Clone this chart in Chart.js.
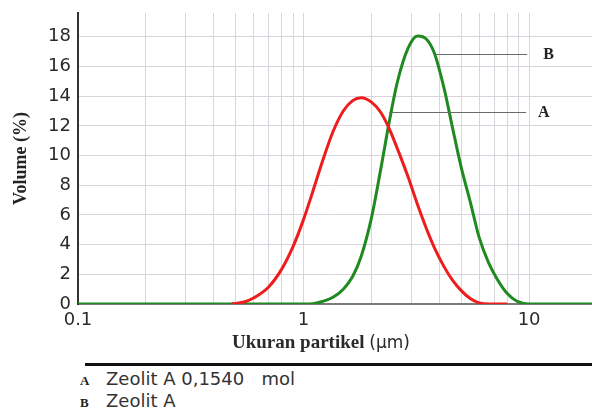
<!DOCTYPE html>
<html>
<head>
<meta charset="utf-8">
<script src="https://cdn.jsdelivr.net/npm/chart.js@4/dist/chart.umd.min.js"></script>
<style>
    body { margin: 0; background: #fff; }
    #wrap { position: relative; width: 592px; height: 419px; background: #fff; overflow: hidden; }
    #chart { position: absolute; left: 0; top: 0; }
    .xtitle { position: absolute; left: 232px; top: 331px; line-height: 22px; white-space: nowrap; color: #2a2a2a; }
    .xtitle .serif { font: bold 19px "Liberation Serif", "DejaVu Serif", serif; }
    .xtitle .sans { font: 17px "DejaVu Sans", sans-serif; }
    .rule { position: absolute; left: 85px; top: 363px; width: 507px; height: 3px; background: #111; }
    .row { position: absolute; left: 80px; height: 22px; line-height: 22px; white-space: pre; color: #333;
           font: 18px "DejaVu Sans", sans-serif; }
    .row .key { display: inline-block; width: 26px; font: bold 13px "Liberation Serif", serif; color: #222; }
</style>
</head>
<body>
<div id="wrap">
    <canvas id="chart" width="592" height="356"></canvas>
    <div class="xtitle"><span class="serif">Ukuran partikel </span><span class="sans">(µm)</span></div>
    <div class="rule"></div>
    <div class="row" style="top:368px"><span class="key">A</span>Zeolit A 0,1540   mol</div>
    <div class="row" style="top:390px"><span class="key">B</span>Zeolit A</div>
</div>
<script>
// Particle size (µm) sample points
const sizes = [0.1, 0.2, 0.3, 0.4, 0.48, 0.5, 0.55, 0.6, 0.7, 0.8, 0.9, 1.0,
    1.1, 1.2, 1.35, 1.5, 1.65, 1.8, 2.0, 2.2, 2.4, 2.6, 2.9, 3.2, 3.5, 3.8,
    4.2, 4.6, 5.0, 5.5, 6.0, 6.6, 7.2, 8.0, 8.8, 10, 12, 15, 19];

// Volume (%) - A: Zeolit A 0,1540 mol
const volumeA = [null, null, null, null, 0, 0.03, 0.15, 0.4, 1.15, 2.35, 3.9, 5.7,
    7.6, 9.4, 11.6, 13.0, 13.7, 13.9, 13.6, 12.9, 11.8, 10.5, 8.6, 6.7, 5.1, 3.8,
    2.5, 1.55, 0.9, 0.35, 0.08, 0, 0, 0, null, null, null, null, null];

// Volume (%) - B: Zeolit A
const volumeB = [0, 0, 0, 0, 0, 0, 0, 0, 0, 0, 0, 0,
    0.02, 0.15, 0.45, 1.0, 1.85, 3.2, 5.8, 9.1, 12.3, 14.9, 17.2, 18.05, 17.85, 16.9,
    14.5, 11.7, 9.2, 6.8, 4.5, 2.8, 1.7, 0.7, 0.2, 0, 0, 0, 0];

// Axis ticks
const xTicks = [0.1, 0.2, 0.3, 0.4, 0.5, 0.6, 0.7, 0.8, 0.9, 1, 2, 3, 4, 5, 6, 7, 8, 9, 10];
const xTickLabels = { 0.1: '0.1', 1: '1', 10: '10' };
const yTicks = [0, 2, 4, 6, 8, 10, 12, 14, 16, 18];

// Leader lines pointing at the curves
const leaders = [
    { text: 'B', y: 16.85, from: 3.87, to: 9.8, labelX: 12.2 },
    { text: 'A', y: 12.95, from: 2.4, to: 9.7, labelX: 11.6 }
];

function toPoints(values) {
    return sizes.map((s, i) => ({ x: s, y: values[i] }));
}

const leaderPlugin = {
    id: 'leaders',
    afterDatasetsDraw(chart) {
        const ctx = chart.ctx;
        const xs = chart.scales.x;
        const ys = chart.scales.y;
        ctx.save();
        leaders.forEach(l => {
            const py = Math.round(ys.getPixelForValue(l.y)) + 0.5;
            ctx.strokeStyle = '#6a6a6a';
            ctx.lineWidth = 1.2;
            ctx.beginPath();
            ctx.moveTo(xs.getPixelForValue(l.from), py);
            ctx.lineTo(xs.getPixelForValue(l.to), py);
            ctx.stroke();
            ctx.fillStyle = '#222';
            ctx.font = 'bold 16px "Liberation Serif", serif';
            ctx.textAlign = 'center';
            ctx.textBaseline = 'middle';
            ctx.fillText(l.text, xs.getPixelForValue(l.labelX), py);
        });
        ctx.restore();
    }
};

const gridColor = '#dbd4df';

new Chart(document.getElementById('chart'), {
    type: 'line',
    data: {
        datasets: [{
            label: 'A',
            data: toPoints(volumeA),
            borderColor: '#ee1d1d',
            borderWidth: 3,
            cubicInterpolationMode: 'monotone',
            pointRadius: 0,
            fill: false
        }, {
            label: 'B',
            data: toPoints(volumeB),
            borderColor: '#1f8a1f',
            borderWidth: 3,
            cubicInterpolationMode: 'monotone',
            pointRadius: 0,
            fill: false
        }]
    },
    options: {
        responsive: false,
        animation: false,
        layout: { padding: { top: 13, right: 0, bottom: 0, left: 0 } },
        plugins: {
            legend: { display: false },
            tooltip: { enabled: false }
        },
        scales: {
            x: {
                type: 'logarithmic',
                min: 0.1,
                max: 19,
                afterBuildTicks: scale => { scale.ticks = xTicks.map(v => ({ value: v })); },
                afterFit: scale => { scale.height = 52; },
                ticks: {
                    autoSkip: false,
                    maxRotation: 0,
                    padding: 6,
                    color: '#2a2a2a',
                    font: { family: 'DejaVu Sans', size: 18 },
                    callback: value => xTickLabels[value] || ''
                },
                grid: { color: gridColor, lineWidth: 1, drawTicks: false },
                border: { color: '#7a7a7a', width: 2 }
            },
            y: {
                min: 0,
                max: 19.6,
                afterBuildTicks: scale => { scale.ticks = yTicks.map(v => ({ value: v })); },
                afterFit: scale => {
                    scale.width = 78;
                    scale.paddingTop = 0;
                    scale.paddingBottom = 0;
                },
                ticks: {
                    padding: 7,
                    color: '#2a2a2a',
                    font: { family: 'DejaVu Sans', size: 18 }
                },
                grid: { color: gridColor, lineWidth: 1, drawTicks: false },
                border: { color: '#333', width: 2 },
                title: {
                    display: true,
                    text: 'Volume (%)',
                    color: '#222',
                    padding: { top: 11, bottom: 0 },
                    font: { family: 'Liberation Serif', size: 18, weight: 'bold' }
                }
            }
        }
    },
    plugins: [leaderPlugin]
});
</script>
</body>
</html>
